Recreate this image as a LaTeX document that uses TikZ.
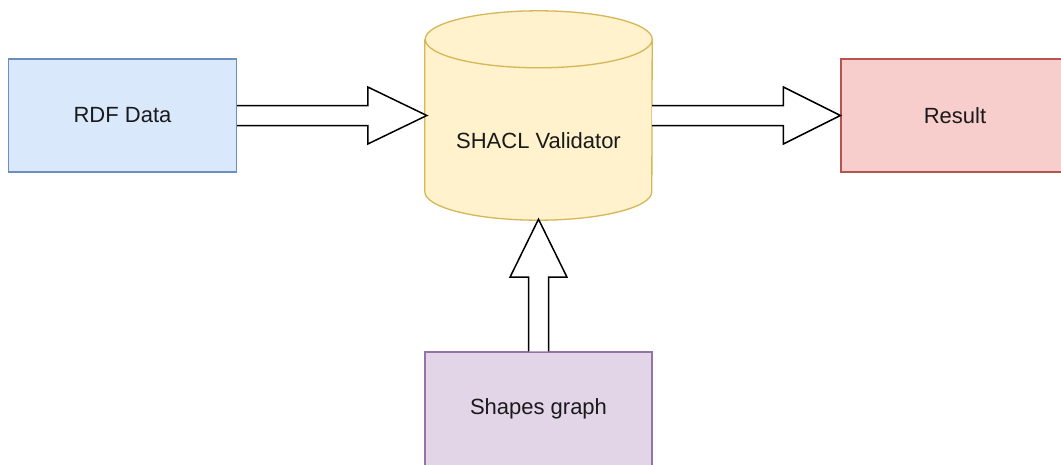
\documentclass[tikz,border=0pt]{standalone}
\usepackage{fontspec}
\setmainfont{Liberation Sans}
\usetikzlibrary{calc}
\definecolor{bluefill}{HTML}{DAE8FC}\definecolor{bluedraw}{HTML}{6C8EBF}
\definecolor{yellowfill}{HTML}{FFF2CC}\definecolor{yellowdraw}{HTML}{D6B656}
\definecolor{redfill}{HTML}{F8CECC}\definecolor{reddraw}{HTML}{B85450}
\definecolor{purplefill}{HTML}{E1D5E7}\definecolor{purpledraw}{HTML}{9673A6}
\definecolor{inktext}{HTML}{1A1A1A}
\tikzset{
  every node/.style={font=\fontsize{22}{26}\selectfont, text=inktext},
  procbox/.style={rectangle, draw, line width=1.3pt, inner sep=0pt,
    minimum width=228pt, minimum height=113pt},
  hollowarrow/.style={draw=black, fill=white, line width=1.5pt, line join=miter},
}
\begin{document}
\begin{tikzpicture}[x=1pt, y=1pt]
\useasboundingbox (0,0) rectangle (1061,-464);
\clip (0,0) rectangle (1061,-464);

% input, output and shapes boxes
\node[procbox, fill=bluefill, draw=bluedraw] (rdf) at (122.5,-115.5) {RDF Data};
\node[procbox, fill=redfill, draw=reddraw] (result) at (955,-115.5) {Result};
\node[procbox, fill=purplefill, draw=purpledraw, minimum width=227pt, minimum height=114pt]
  (shapes) at (538.5,-409) {Shapes graph};

% validator cylinder: frame node, body and top rim
\node[inner sep=0pt, minimum width=227pt, minimum height=209pt] (cyl) at (538.5,-115.5) {};
\fill[yellowfill] ($(cyl.north west)+(0,-28.5)$) -- ($(cyl.south west)+(0,28.5)$)
  arc[start angle=180, end angle=360, x radius=113.5, y radius=28.5]
  -- ($(cyl.north east)+(0,-28.5)$)
  arc[start angle=0, end angle=180, x radius=113.5, y radius=28.5] -- cycle;
\draw[yellowdraw, line width=1.3pt] ($(cyl.north west)+(0,-28.5)$) -- ($(cyl.south west)+(0,28.5)$)
  arc[start angle=180, end angle=360, x radius=113.5, y radius=28.5]
  -- ($(cyl.north east)+(0,-28.5)$)
  arc[start angle=0, end angle=360, x radius=113.5, y radius=28.5];
\node (cyltext) at ($(cyl.center)+(0,-25.5)$) {SHACL Validator};

% hollow block arrows
\draw[hollowarrow] ($(rdf.east)+(0,10)$) -- ($(cyl.west)+(-57,10)$) -- ++(0,18.5)
  -- ($(cyl.west)+(2,0)$) -- ($(cyl.west)+(-57,-28.5)$) -- ++(0,18.5)
  -- ($(rdf.east)+(0,-10)$);
\draw[hollowarrow] ($(cyl.east)+(0,10)$) -- ($(result.west)+(-57,10)$) -- ++(0,18.5)
  -- (result.west) -- ($(result.west)+(-57,-28.5)$) -- ++(0,18.5)
  -- ($(cyl.east)+(0,-10)$);
\draw[hollowarrow] ($(shapes.north)+(-10,0)$) -- ($(cyl.south)+(-10,-57)$) -- ++(-18.5,0)
  -- ($(cyl.south)+(0,1)$) -- ($(cyl.south)+(28.5,-57)$) -- ++(-18.5,0)
  -- ($(shapes.north)+(10,0)$);
\end{tikzpicture}
\end{document}
